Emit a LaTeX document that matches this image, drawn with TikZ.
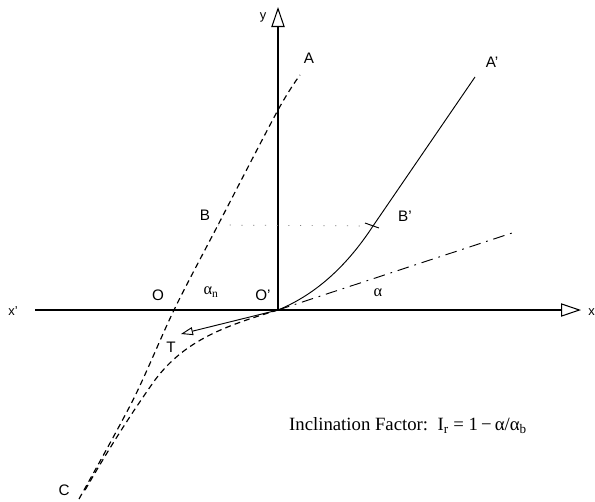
\documentclass[tikz,border=0pt]{standalone}
\usepackage{fontspec}
\setmainfont{Liberation Serif}
\setsansfont{Liberation Sans}
\usetikzlibrary{arrows.meta, positioning}

\begin{document}
\begin{tikzpicture}[
  x=0.03cm, y=-0.03cm,
  lbl/.style={font=\fontsize{13}{13}\selectfont\sffamily, inner sep=1pt},
  greek/.style={font=\fontsize{14}{14}\selectfont, inner sep=1pt},
  axis/.style={line width=0.9pt, -{Triangle[open, length=6mm, width=4mm]}},
  trace/.style={line width=0.8pt},
  dashline/.style={line width=1pt, dash pattern=on 5pt off 3.5pt},
  dashdot/.style={line width=0.8pt, dash pattern=on 10pt off 5pt on 1.5pt off 5pt},
]
\useasboundingbox (0,0) rectangle (595,501);

% ---- points ----
\coordinate (Op) at (278,310);
\coordinate (O)  at (174,310);
\coordinate (xl) at (35,310);
\coordinate (xr) at (581,310);
\coordinate (yt) at (278,7);
\coordinate (A)  at (300,75);
\coordinate (B)  at (218,225);
\coordinate (C)  at (79,499);
\coordinate (Ap) at (475,77);
\coordinate (Bp) at (373,226);
\coordinate (T)  at (181,334);
\coordinate (D)  at (512,233);

% ---- axes ----
\draw[axis] (xl) -- (xr);
\draw[axis] (Op) -- (yt);

% ---- curves ----
\draw[dashline] plot[smooth] coordinates {(C) (133,400) (O) (B) (278,110) (A)};
\draw[dashline] (Op) .. controls (225,326) and (185,340) .. (155,380)
  .. controls (130,415) and (105,455) .. (84,492);
\draw[trace] (Op) .. controls (322,292) and (352,258) .. (Bp) -- (Ap);
\draw[dashdot] (Op) -- (D);
\draw[trace, -{Triangle[open, length=3.6mm, width=2.4mm]}] (Op) -- (T);

% ---- B level ----
\draw[gray, line width=0.6pt, dash pattern=on 1pt off 9pt] (B) -- (Bp);
\draw[trace] (365,223) -- (379,228);

% ---- labels ----
\node[lbl] (lA)  at (309,58)  {A};
\node[lbl] (lAp) at (492,62)  {A'};
\node[lbl] (lB)  at (205,215) {B};
\node[lbl] (lBp) at (405,216) {B'};
\node[lbl] (lO)  at (158,295) {O};
\node[lbl] (lOp) at (263,295) {O'};
\node[lbl] (lT)  at (171,347) {T};
\node[lbl] (lC)  at (64,490)  {C};
\node[lbl, font=\fontsize{11}{11}\selectfont\sffamily] (ly) at (263,17) {y};
\node[lbl, font=\fontsize{11}{11}\selectfont\sffamily] (lxl) at (13,311) {x'};
\node[lbl, font=\fontsize{11}{11}\selectfont\sffamily, anchor=west] (lxr) at (587,312) {x};
\node[greek] (an) at (211,292) {α\textsubscript{n}};
\node[greek] (al) at (378,293) {α};

\node[font=\fontsize{16}{16}\selectfont] (factor) at (408,426)
  {Inclination Factor:\, I\textsubscript{r} = 1\,−\,α/α\textsubscript{b}};

\end{tikzpicture}
\end{document}
